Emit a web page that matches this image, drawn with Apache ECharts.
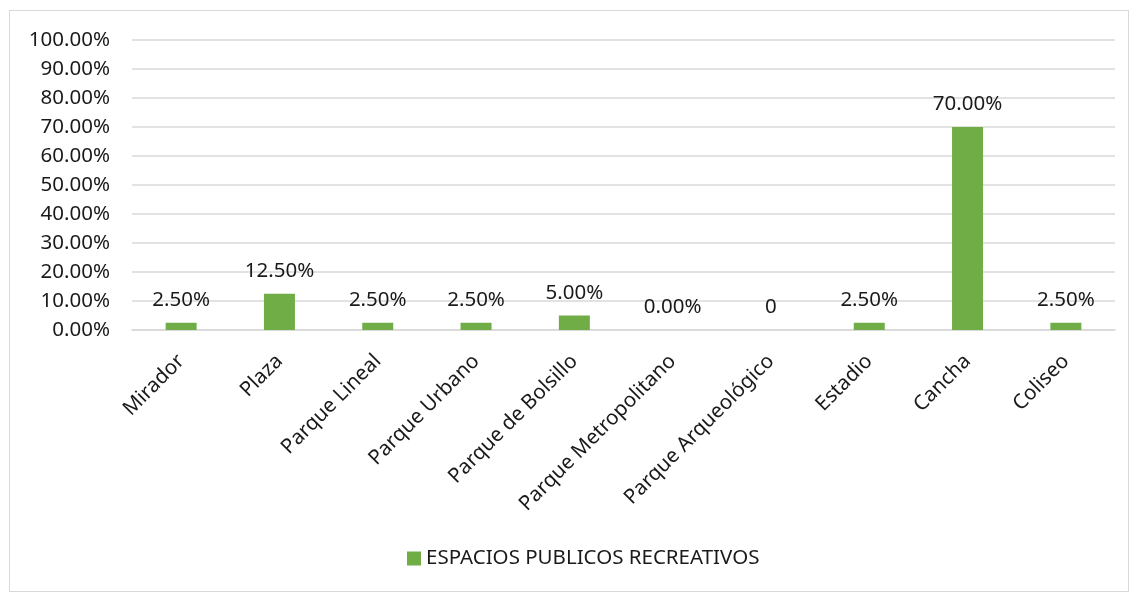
<!DOCTYPE html>
<html>
<head>
<meta charset="utf-8">
<script src="https://cdn.jsdelivr.net/npm/echarts@6/dist/echarts.min.js"></script>
<style>
  html, body { margin: 0; padding: 0; background: #fff; }
  #frame { position: absolute; left: 9px; top: 10px; width: 1118px; height: 580px; border: 1px solid #d9d9d9; }
  #chart { position: absolute; left: 0; top: 0; width: 1130px; height: 593px; }
</style>
</head>
<body>
<div id="frame"></div>
<div id="chart"></div>
<script>
var categories = ['Mirador', 'Plaza', 'Parque Lineal', 'Parque Urbano', 'Parque de Bolsillo',
  'Parque Metropolitano', 'Parque Arqueológico', 'Estadio', 'Cancha', 'Coliseo'];
// porcentajes
var values = [2.5, 12.5, 2.5, 2.5, 5.0, 0, 0, 2.5, 70.0, 2.5];
// etiquetas tal como aparecen (la de Parque Arqueológico sale como "0")
var dataLabels = ['2.50%', '12.50%', '2.50%', '2.50%', '5.00%', '0.00%', '0', '2.50%', '70.00%', '2.50%'];
var seriesName = 'ESPACIOS PUBLICOS RECREATIVOS';

var FONT = 'Noto Sans';
var FONT_SIZE = 20.5;
var TEXT_COLOR = '#1a1a1a';
var GREEN = '#70ad47';

var chart = echarts.init(document.getElementById('chart'));

var option = {
  animation: false,
  textStyle: {fontFamily: FONT},
  grid: {
    left: 132,
    right: 15,
    top: 40,
    bottom: 263
  },
  legend: {
    bottom: 19,
    left: 402,
    itemWidth: 14,
    itemHeight: 14,
    itemGap: 10,
    icon: 'rect',
    textStyle: {fontFamily: FONT, fontSize: FONT_SIZE, color: TEXT_COLOR},
    data: [seriesName]
  },
  xAxis: {
    type: 'category',
    data: categories,
    axisLine: {lineStyle: {color: '#d9d9d9', width: 1.5}},
    axisTick: {show: false},
    axisLabel: {
      interval: 0,
      rotate: 45,
      margin: 28,
      fontFamily: FONT,
      fontSize: FONT_SIZE,
      color: TEXT_COLOR
    }
  },
  yAxis: {
    type: 'value',
    min: 0,
    max: 100,
    interval: 10,
    axisLine: {show: false},
    axisTick: {show: false},
    splitLine: {lineStyle: {color: '#d9d9d9', width: 1.5}},
    axisLabel: {
      margin: 22,
      fontFamily: FONT,
      fontSize: FONT_SIZE,
      color: TEXT_COLOR,
      formatter: function(v){
        return v.toFixed(2) + '%'
      }
    }
  },
  series: [
    {
      name: seriesName,
      type: 'bar',
      data: values,
      barWidth: 31,
      itemStyle: {color: GREEN},
      label: {
        show: true,
        position: 'top',
        distance: 12,
        fontFamily: FONT,
        fontSize: FONT_SIZE,
        color: TEXT_COLOR,
        formatter: function(p){
          return dataLabels[p.dataIndex]
        }
      }
    }
  ]
};

chart.setOption(option);
</script>
</body>
</html>
